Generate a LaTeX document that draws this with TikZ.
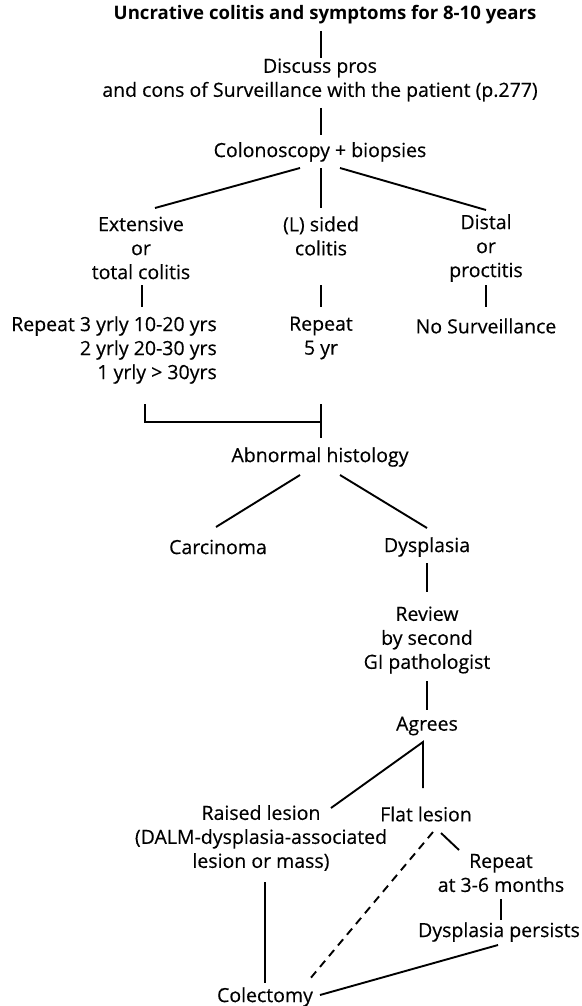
\documentclass[tikz,border=0pt]{standalone}
\usepackage{fontspec}
\setmainfont{Open Sans}
\newfontfamily\regfont{Open Sans}[FakeBold=0.35]
\usetikzlibrary{calc}
\tikzset{
  txt/.style={inner sep=0pt, align=center, font=\fontsize{19.5}{24}\selectfont\regfont},
  link/.style={line width=1.9pt},
  dlink/.style={line width=1.9pt, dash pattern=on 8pt off 6pt}
}
\begin{document}
\begin{tikzpicture}[x=1pt,y=-1pt]
\useasboundingbox (0,0) rectangle (581,1006);
\node[txt,font=\fontsize{18.6}{24}\selectfont\bfseries] (title) at (325,15) {Uncrative colitis and symptoms for 8-10 years};
\node[txt] (discuss) at (320,80) {Discuss pros\\and cons of Surveillance with the patient (p.277)};
\node[txt] (colon) at (320,152) {Colonoscopy + biopsies};
\node[txt] (ext) at (141,248) {Extensive\\or\\total colitis};
\node[txt] (lsided) at (321,236) {(L) sided\\colitis};
\node[txt] (distal) at (486,248) {Distal\\or\\proctitis};
\node[txt,align=right,anchor=east] (rep3) at (217,350) {Repeat 3 yrly 10-20 yrs\\2 yrly 20-30 yrs\\1 yrly > 30yrs};
\node[txt] (rep5) at (321,338) {Repeat\\5 yr};
\node[txt] (nosurv) at (486,326) {No Surveillance};
\node[txt] (abn) at (320,457) {Abnormal histology};
\node[txt] (carc) at (218,547) {Carcinoma};
\node[txt] (dysp) at (427,547) {Dysplasia};
\node[txt] (review) at (427,640) {Review\\by second\\GI pathologist};
\node[txt] (agrees) at (427,726) {Agrees};
\node[txt] (raised) at (261,838) {Raised lesion\\(DALM-dysplasia-associated\\lesion or mass)};
\node[txt] (flat) at (426,814) {Flat lesion};
\node[txt] (rep36) at (501,873) {Repeat\\at 3-6 months};
\node[txt] (persists) at (499,932) {Dysplasia persists};
\node[txt] (colect) at (265,997) {Colectomy};

\draw[link] ($(title)+(-4,16)$) -- ($(discuss)+(1,-22)$);
\draw[link] ($(discuss)+(1,28)$) -- ($(colon)+(1,-17)$);
\draw[link] ($(colon)+(-20,16)$) -- ($(ext)+(14,-40)$);
\draw[link] ($(colon)+(1,16)$) -- ($(lsided)+(0,-28)$);
\draw[link] ($(colon)+(20,16)$) -- ($(distal)+(0,-38)$);
\draw[link] ($(ext)+(1,37)$) -- ($(rep3.east)+(-75,-43)$);
\draw[link] ($(lsided)+(0,49)$) -- ($(rep5)+(0,-31)$);
\draw[link] ($(distal)+(0,37)$) -- ($(nosurv)+(0,-19)$);
\draw[link] ($(rep3.east)+(-72,54)$) |- ($(abn)+(1,-35)$);
\draw[link] ($(rep5)+(0,66)$) -- ($(abn)+(1,-19)$);
\draw[link] ($(abn)+(-20,18)$) -- ($(carc)+(-2,-20)$);
\draw[link] ($(abn)+(20,18)$) -- ($(dysp)+(0,-19)$);
\draw[link] ($(dysp)+(0,16)$) -- ($(review)+(0,-48)$);
\draw[link] ($(review)+(0,41)$) -- ($(agrees)+(0,-16)$);
\draw[link] ($(raised)+(70,-30)$) -- ($(agrees)+(-4,16)$) -- ($(flat)+(-3,-26)$);
\draw[dlink] ($(flat)+(7,18)$) -- ($(colect)+(44,-17)$);
\draw[link] ($(flat)+(15,19)$) -- ($(rep36)+(-42,-23)$);
\draw[link] ($(rep36)+(0,26)$) -- ($(persists)+(2,-12)$);
\draw[link] ($(persists)+(-1,13)$) -- ($(colect)+(55,-2)$);
\draw[link] ($(raised)+(4,44)$) -- ($(colect)+(0,-14)$);
\end{tikzpicture}
\end{document}
